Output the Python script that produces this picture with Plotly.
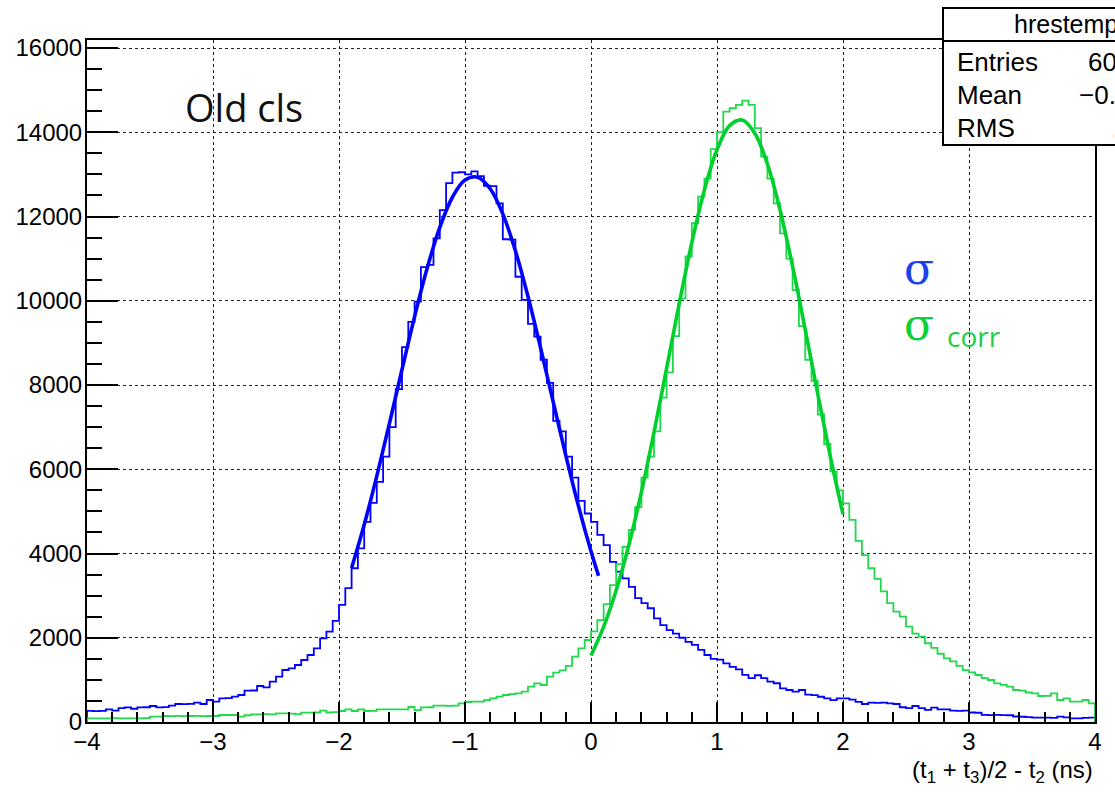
import plotly.graph_objects as go

# ---------------- data ----------------
BIN_LO, BIN_HI, N_BINS = -4.0, 4.0, 160

blue_counts = [
    262, 258, 265, 301, 270, 330, 348, 315, 348, 350, 380, 348, 352, 390, 427, 425, 430, 460, 427, 522,
    483, 562, 565, 601, 641, 744, 748, 855, 823, 957, 1076, 1234, 1274, 1353, 1472, 1590, 1749, 1986, 2145, 2400,
    2780, 3180, 3650, 4120, 4750, 5200, 5700, 6300, 7000, 7900, 8900, 9500, 9980, 10800, 10850, 11480, 12150, 12790, 13040, 13050,
    13000, 13070, 12960, 12730, 12720, 12310, 11460, 11450, 10570, 10020, 9450, 9150, 8600, 8050, 7150, 6900, 6300, 5800, 5250, 4950,
    4750, 4440, 4200, 3800, 3570, 3410, 3210, 2940, 2820, 2700, 2460, 2300, 2180, 2100, 2000, 1900, 1830, 1710, 1590, 1500,
    1480, 1390, 1310, 1250, 1120, 1040, 1110, 1040, 960, 920, 800, 760, 720, 760, 650, 640, 600, 560, 520, 560,
    562, 530, 480, 427, 460, 455, 462, 440, 427, 350, 330, 380, 330, 290, 340, 300, 300, 270, 265, 272,
    225, 220, 170, 165, 168, 165, 160, 130, 125, 118, 105, 102, 104, 100, 127, 110, 88, 85, 100, 103,
]

green_counts = [
    87, 88, 86, 87, 90, 87, 85, 88, 87, 90, 127, 127, 142, 140, 145, 140, 142, 146, 140, 143,
    142, 166, 166, 166, 127, 160, 182, 182, 185, 182, 206, 206, 200, 185, 222, 222, 225, 269, 225, 235,
    261, 301, 261, 301, 261, 265, 300, 301, 298, 302, 301, 356, 280, 348, 350, 388, 390, 385, 390, 443,
    475, 483, 485, 520, 562, 601, 641, 660, 680, 720, 839, 918, 878, 1076, 1171, 1227, 1330, 1550, 1750, 1947,
    2150, 2420, 2800, 3250, 3750, 4160, 4560, 5100, 5800, 6300, 6900, 7700, 8300, 9160, 10050, 11050, 11840, 12470, 12900, 13600,
    14000, 14490, 14570, 14650, 14750, 14650, 14100, 13420, 12900, 12310, 11600, 11000, 10250, 9400, 8600, 8100, 7300, 6600, 5950, 5500,
    5190, 4800, 4300, 3960, 3650, 3400, 3100, 2820, 2620, 2500, 2263, 2100, 2026, 1870, 1760, 1620, 1510, 1440, 1330, 1230,
    1180, 1116, 1040, 997, 918, 880, 839, 760, 744, 700, 681, 617, 620, 681, 522, 562, 483, 483, 522, 443,
]

blue_fit_x = [-1.9, -1.8, -1.7, -1.6, -1.5, -1.4, -1.3, -1.2, -1.1, -1.0, -0.9, -0.8, -0.7,
              -0.6, -0.5, -0.4, -0.3, -0.2, -0.1, 0.0, 0.06]
blue_fit_y = [3657, 4683, 5838, 7085, 8368, 9624, 10775, 11742, 12457, 12865, 12934, 12659, 12062,
              11188, 10101, 8879, 7598, 6329, 5132, 4051, 3469]

green_fit_x = [0.0, 0.1, 0.2, 0.3, 0.4, 0.5, 0.6, 0.7, 0.8, 0.9, 1.0, 1.1, 1.2, 1.3, 1.4,
               1.5, 1.6, 1.7, 1.8, 1.9, 2.0]
green_fit_y = [1577, 2257, 3126, 4197, 5458, 6878, 8396, 9930, 11379, 12631, 13585, 14156, 14291,
               13978, 13246, 12161, 10815, 9321, 7782, 6294, 4932]

x_tick_vals = [-4, -3, -2, -1, 0, 1, 2, 3, 4]
x_tick_text = ["\u22124", "\u22123", "\u22122", "\u22121", "0", "1", "2", "3", "4"]
y_tick_vals = [0, 2000, 4000, 6000, 8000, 10000, 12000, 14000, 16000]
y_tick_text = ["0", "2000", "4000", "6000", "8000", "10000", "12000", "14000", "16000"]

stats_title = "hrestemp"
stats_labels = ["Entries", "Mean", "RMS"]
stats_values = ["600000", "\u22120.0312", "1.2"]

# ---------------- styling ----------------
BLUE = "#0000ff"
GREEN_H = "#22d84c"
GREEN_F = "#00cf2e"
AXIS_FONT = "Liberation Sans, Arial, sans-serif"

W, H = 1115, 793
ML, MR, MT, MB = 87, 20, 40, 71
PW, PH = W - ML - MR, H - MT - MB


def px2xp(px):
    return (px - ML) / PW


def py2yp(py):
    return (H - MB - py) / PH


def step_xy(counts):
    width = (BIN_HI - BIN_LO) / N_BINS
    xs = [BIN_LO]
    ys = [0]
    for i, c in enumerate(counts):
        xs.append(BIN_LO + i * width)
        ys.append(c)
    xs.append(BIN_HI)
    ys.append(counts[-1])
    xs.append(BIN_HI)
    ys.append(0)
    return xs, ys


fig = go.Figure()

bx, by = step_xy(blue_counts)
gx, gy = step_xy(green_counts)

fig.add_trace(go.Scatter(x=bx, y=by, mode="lines", line=dict(color=BLUE, width=1.8, shape="hv"),
                         hoverinfo="skip", showlegend=False))
fig.add_trace(go.Scatter(x=blue_fit_x, y=blue_fit_y, mode="lines",
                         line=dict(color=BLUE, width=3.6, shape="spline"), showlegend=False))
fig.add_trace(go.Scatter(x=gx, y=gy, mode="lines", line=dict(color=GREEN_H, width=1.8, shape="hv"),
                         hoverinfo="skip", showlegend=False))
fig.add_trace(go.Scatter(x=green_fit_x, y=green_fit_y, mode="lines",
                         line=dict(color=GREEN_F, width=3.6, shape="spline"), showlegend=False))

axis_common = dict(
    showline=True, linecolor="black", linewidth=2, mirror=True,
    ticks="inside", tickcolor="black", tickwidth=1.6,
    showgrid=True, gridcolor="#222222", gridwidth=1.4, griddash="dot",
    zeroline=False,
    tickfont=dict(family=AXIS_FONT, size=24, color="black"),
)

fig.update_xaxes(
    range=[BIN_LO, BIN_HI], tickvals=x_tick_vals, ticktext=x_tick_text, ticklen=20,
    minor=dict(ticks="inside", ticklen=10, dtick=0.2, tick0=0, tickcolor="black", tickwidth=1.6, showgrid=False),
    ticklabelstandoff=-3,
    **axis_common,
)
fig.update_yaxes(
    range=[0, 16190], tickvals=y_tick_vals, ticktext=y_tick_text, ticklen=31,
    minor=dict(ticks="inside", ticklen=15, dtick=500, tick0=0, tickcolor="black", tickwidth=1.6, showgrid=False),
    ticklabelstandoff=-2,
    **axis_common,
)

# stats box (partly outside the canvas, as in the reference)
bx0, bx1 = px2xp(943), px2xp(1200)
fig.add_shape(type="rect", xref="paper", yref="paper", x0=bx0, x1=bx1, y0=py2yp(145), y1=py2yp(8),
              line=dict(color="black", width=2), fillcolor="white", layer="above")
fig.add_shape(type="line", xref="paper", yref="paper", x0=bx0, x1=bx1, y0=py2yp(41), y1=py2yp(41),
              line=dict(color="black", width=2), layer="above")

annotations = []
annotations.append(dict(x=px2xp(1012), y=py2yp(24), xref="paper", yref="paper", text=stats_title,
                        showarrow=False, xanchor="left", yanchor="middle",
                        font=dict(family=AXIS_FONT, size=25, color="black")))
stat_rows_py = [62, 95, 128]
stat_value_px = [1086, 1077, 1111]
for lab, val, py, vpx in zip(stats_labels, stats_values, stat_rows_py, stat_value_px):
    annotations.append(dict(x=px2xp(955), y=py2yp(py), xref="paper", yref="paper", text=lab,
                            showarrow=False, xanchor="left", yanchor="middle",
                            font=dict(family=AXIS_FONT, size=26, color="black")))
    annotations.append(dict(x=px2xp(vpx), y=py2yp(py), xref="paper", yref="paper", text=val,
                            showarrow=False, xanchor="left", yanchor="middle",
                            font=dict(family=AXIS_FONT, size=26, color="black")))

# axis title
annotations.append(dict(x=1.0, y=py2yp(771), xref="paper", yref="paper",
                        text="(t<sub>1</sub> + t<sub>3</sub>)/2 - t<sub>2</sub> (ns)",
                        showarrow=False, xanchor="right", yanchor="middle",
                        font=dict(family=AXIS_FONT, size=24, color="black")))

# overlay texts
annotations.append(dict(x=px2xp(183), y=py2yp(107), xref="paper", yref="paper", text="Old cls",
                        showarrow=False, xanchor="left", yanchor="middle",
                        font=dict(family="Open Sans, sans-serif", size=38, color="#111111")))
annotations.append(dict(x=px2xp(902), y=py2yp(268), xref="paper", yref="paper", text="\u03c3",
                        showarrow=False, xanchor="left", yanchor="middle",
                        font=dict(family="DejaVu Serif, serif", size=44, color="#1a40f0")))
annotations.append(dict(x=px2xp(902), y=py2yp(324), xref="paper", yref="paper", text="\u03c3",
                        showarrow=False, xanchor="left", yanchor="middle",
                        font=dict(family="DejaVu Serif, serif", size=44, color="#0ccf3a")))
annotations.append(dict(x=px2xp(945), y=py2yp(336), xref="paper", yref="paper", text="corr",
                        showarrow=False, xanchor="left", yanchor="middle",
                        font=dict(family="Open Sans, sans-serif", size=28, color="#22cc44")))

fig.update_layout(
    width=W, height=H,
    margin=dict(l=ML, r=MR, t=MT, b=MB, pad=0),
    paper_bgcolor="white", plot_bgcolor="white",
    annotations=annotations,
    showlegend=False,
)

fig.write_html("out.html")
